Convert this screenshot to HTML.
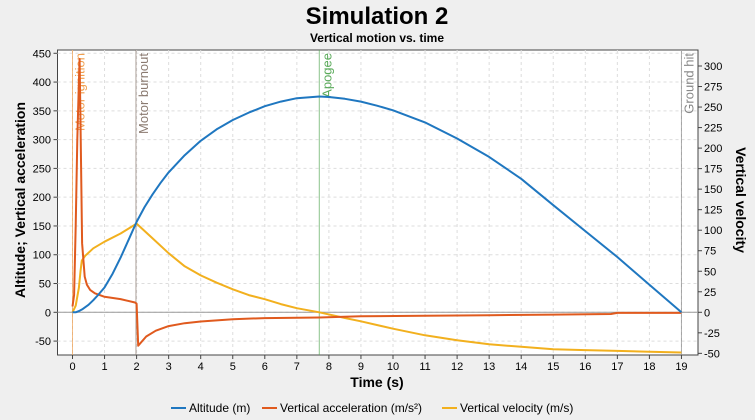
<!DOCTYPE html>
<html><head><meta charset="utf-8"><style>
body{margin:0;background:#efefef;font-family:"Liberation Sans",sans-serif;}
svg{display:block}
</style></head><body>
<svg id="chart" width="755" height="420" xmlns="http://www.w3.org/2000/svg">
<rect x="0" y="0" width="755" height="420" fill="#efefef"/>
<text x="377" y="24" text-anchor="middle" font-size="24" font-weight="bold" fill="#000">Simulation 2</text>
<text x="377" y="42" text-anchor="middle" font-size="12" font-weight="bold" fill="#000">Vertical motion vs. time</text>
<rect x="57.5" y="50" width="640.5" height="305" fill="#fff" stroke="#444"/>
<g id="grid"></g><g id="events"></g><g id="series"></g><g id="axes"></g>
<text x="377" y="387" text-anchor="middle" font-size="14" font-weight="bold">Time (s)</text>
<text transform="translate(25,200) rotate(-90)" text-anchor="middle" font-size="14" font-weight="bold">Altitude; Vertical acceleration</text>
<text transform="translate(736,200) rotate(90)" text-anchor="middle" font-size="14" font-weight="bold">Vertical velocity</text>
<g font-size="12">
<line x1="171" y1="408" x2="186" y2="408" stroke="#1f77c0" stroke-width="2"/>
<text x="189" y="412">Altitude (m)</text>
<line x1="262" y1="408" x2="277" y2="408" stroke="#e05a1e" stroke-width="2"/>
<text x="280" y="412">Vertical acceleration (m/s²)</text>
<line x1="442" y1="408" x2="457" y2="408" stroke="#f2b01e" stroke-width="2"/>
<text x="460" y="412">Vertical velocity (m/s)</text>
</g>
</svg>
<script>
const altT=[0,0.1,0.2,0.3,0.5,0.65,0.8,1,1.25,1.5,1.75,2,2.25,2.5,2.75,3,3.5,4,4.5,5,5.5,6,6.5,7,7.7,8,8.5,9,9.5,10,11,12,13,14,15,16,17,18,19];
const altV=[0,0,2,5,13,21,30,43,67,95,126,157,183,205,225,243,273,298,318,334,347,358,366,372,375,374,371,366,359,351,330,302,270,232,186,141,96,48,0];
const accT=[0,0.05,0.1,0.15,0.2,0.22,0.25,0.3,0.38,0.45,0.55,0.7,1,1.5,1.95,2,2.05,2.3,2.6,3,3.5,4,5,6,7.7,9,11,13,15,16.8,17,19];
const accV=[10,30,150,300,400,440,330,120,62,48,39,33,27,23,17,15,-58,-42,-32,-24,-19,-16,-12,-10,-9,-7,-6,-5,-4,-3,-1,-1];
const velT=[0,0.1,0.2,0.25,0.29,0.4,0.65,1,1.5,2,2.25,2.5,3,3.5,4,4.5,5,5.5,6,6.5,7,7.7,8.5,9,10,11,12,13,14,15,16,17,18,19];
const velV=[0,8,30,50,63,69,78,86,96,108,99,90,72,56,45,36,28,21,16,10,5,0,-7,-11,-20,-28,-34,-39,-42,-45,-46,-47,-48,-49];
const xTicks=[0,1,2,3,4,5,6,7,8,9,10,11,12,13,14,15,16,17,18,19];
const yLTicks=[-50,0,50,100,150,200,250,300,350,400,450];
const yRTicks=[-50,-25,0,25,50,75,100,125,150,175,200,225,250,275,300];
const evNames=["Motor ignition","Motor burnout","Apogee","Ground hit"];
const evTimes=[0,1.98,7.7,19];
const evColors=["#f0a050","#8a7a70","#5aaa5a","#888"];
const X=t=>72.5+t*32.05, YL=v=>312.3-v*0.5756, YR=v=>312.3-v*0.821;
const NS="http://www.w3.org/2000/svg";
function mk(tag,attrs,parent,txt){const e=document.createElementNS(NS,tag);for(const k in attrs)e.setAttribute(k,attrs[k]);if(txt!==undefined)e.textContent=txt;parent.appendChild(e);return e;}
const grid=document.getElementById('grid'),axes=document.getElementById('axes'),ser=document.getElementById('series'),ev=document.getElementById('events');
xTicks.forEach(t=>{const x=X(t);
 const g=mk('line',{x1:x,x2:x,y1:50,y2:355,stroke:'#ddd','stroke-dasharray':'3,3'},grid);
 
 
 mk('line',{x1:x,x2:x,y1:355,y2:359,stroke:'#444'},axes);
 const l=mk('text',{x:x,y:370,'text-anchor':'middle','font-size':11},axes,t);
 
 });
yLTicks.forEach(v=>{const y=YL(v);
 const g=mk('line',{x1:57.5,x2:698,y1:y,y2:y,stroke:'#ddd','stroke-dasharray':'3,3'},grid);
 
 
 mk('line',{x1:53.5,x2:57.5,y1:y,y2:y,stroke:'#444'},axes);
 const l=mk('text',{x:51,y:y+4,'text-anchor':'end','font-size':11},axes,v);
 
 });
yRTicks.forEach(v=>{const y=YR(v);
 mk('line',{x1:698,x2:702,y1:y,y2:y,stroke:'#444'},axes);
 const l=mk('text',{x:704,y:y+4,'font-size':11},axes,v);
 
 });
mk('line',{x1:57.5,x2:698,y1:YL(0),y2:YL(0),stroke:'#999'},grid);
evTimes.forEach((t,i)=>{const x=X(t);
 const l=mk('line',{x1:x,x2:x,y1:50,y2:355,stroke:evColors[i],'stroke-opacity':0.7},ev);
 
 
 const tx=mk('text',{transform:`translate(${x+12},53) rotate(-90)`,'text-anchor':'end','font-size':13,fill:evColors[i]},ev,evNames[i]);
 
 });
function path(T,V,Y,color,name){const d=T.map((t,i)=>(i?'L':'M')+X(t).toFixed(1)+','+Y(V[i]).toFixed(1)).join('');
 const p=mk('path',{d:d,fill:'none',stroke:color,'stroke-width':2,'stroke-linejoin':'round'},ser);
 
 }
path(velT,velV,YR,'#f2b01e','velocity-line');
path(accT,accV,YL,'#e05a1e','acceleration-line');
path(altT,altV,YL,'#1f77c0','altitude-line');
</script>
</body></html>
